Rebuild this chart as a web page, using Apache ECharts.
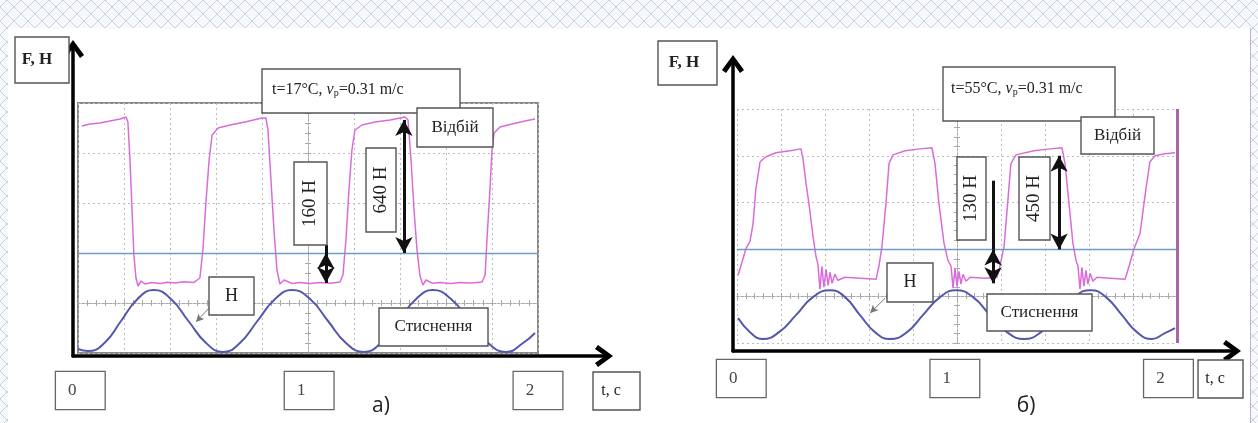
<!DOCTYPE html>
<html><head><meta charset="utf-8">
<script src="https://cdn.jsdelivr.net/npm/echarts@6/dist/echarts.min.js"></script>
<style>html,body{margin:0;padding:0;background:#fff}#c{width:1258px;height:423px}</style>
</head><body><div id="c"></div>
<script>
// ---------- data ----------
const tickValues = [0, 1, 2];                 // t, c
// panel а) : force F (Н) vs time t (c)
const forceA = [[0.017,635],[0.052,645],[0.096,650],[0.139,660],[0.183,670],[0.209,680],[0.217,655],[0.226,465],[0.235,215],[0.243,-10],[0.252,-125],[0.261,-165],[0.274,-140],[0.291,-155],[0.32,-148],[0.357,-152],[0.39,-146],[0.422,-150],[0.46,-144],[0.504,-147],[0.530,-125],[0.543,15],[0.557,265],[0.570,465],[0.583,590],[0.609,625],[0.661,640],[0.726,655],[0.800,675],[0.817,675],[0.826,615],[0.839,365],[0.852,115],[0.865,-85],[0.878,-155],[0.896,-135],[0.93,-152],[0.965,-148],[1.01,-153],[1.052,-147],[1.1,-151],[1.139,-145],[1.152,-110],[1.165,65],[1.178,315],[1.191,515],[1.204,615],[1.235,640],[1.291,655],[1.357,665],[1.422,680],[1.435,665],[1.448,465],[1.461,215],[1.474,15],[1.487,-115],[1.500,-160],[1.513,-135],[1.54,-151],[1.574,-147],[1.62,-152],[1.661,-148],[1.71,-150],[1.757,-145],[1.770,-110],[1.778,65],[1.791,315],[1.800,515],[1.809,600],[1.835,630],[1.887,645],[1.943,660],[1.987,670]];
// panel а) : displacement (drawn on the same scale)
const strokeA = [[0.000,-480],[0.043,-490],[0.115,-450],[0.187,-340],[0.259,-230],[0.330,-185],[0.404,-230],[0.480,-340],[0.557,-450],[0.630,-495],[0.704,-450],[0.780,-340],[0.857,-230],[0.930,-185],[1.009,-230],[1.087,-340],[1.165,-450],[1.243,-495],[1.317,-450],[1.393,-340],[1.470,-230],[1.543,-185],[1.622,-230],[1.702,-340],[1.783,-450],[1.861,-495],[1.935,-450],[1.987,-400]];
// panel б)
const forceB = [[0.005,-138],[0.041,5],[0.059,43],[0.073,138],[0.086,325],[0.105,468],[0.132,495],[0.177,516],[0.241,527],[0.291,537],[0.300,484],[0.314,351],[0.327,245],[0.345,74],[0.359,-37],[0.368,-80],[0.377,-213],[0.386,-90],[0.395,-202],[0.405,-106],[0.414,-192],[0.423,-122],[0.432,-181],[0.445,-133],[0.459,-165],[0.491,-149],[0.559,-154],[0.632,-160],[0.645,-90],[0.659,16],[0.677,245],[0.691,458],[0.709,505],[0.764,527],[0.832,537],[0.886,543],[0.900,458],[0.918,245],[0.941,32],[0.959,-59],[0.973,-90],[0.982,-207],[0.991,-101],[1.000,-197],[1.009,-117],[1.018,-186],[1.027,-133],[1.041,-170],[1.059,-149],[1.127,-154],[1.182,-149],[1.195,-90],[1.214,16],[1.232,271],[1.245,458],[1.268,505],[1.350,527],[1.423,537],[1.477,543],[1.491,458],[1.509,245],[1.527,32],[1.541,-59],[1.550,-90],[1.559,-213],[1.568,-96],[1.577,-197],[1.586,-112],[1.595,-186],[1.605,-128],[1.618,-170],[1.636,-149],[1.695,-154],[1.764,-160],[1.782,-90],[1.805,5],[1.832,85],[1.859,325],[1.877,468],[1.900,500],[1.945,511],[1.991,516]];
const strokeB = [[0.005,-367],[0.059,-442],[0.118,-479],[0.191,-442],[0.268,-351],[0.345,-255],[0.423,-218],[0.491,-255],[0.559,-351],[0.627,-442],[0.695,-479],[0.773,-442],[0.845,-351],[0.923,-255],[0.995,-218],[1.073,-255],[1.150,-351],[1.227,-442],[1.305,-479],[1.382,-442],[1.459,-351],[1.532,-255],[1.609,-218],[1.677,-255],[1.750,-351],[1.818,-442],[1.886,-479],[1.945,-447],[1.991,-420]];
// annotation arrows: [t, from, to]
const arrowsA = [[1.417, 0, 665], [1.078, 0, -150]];
const leadersA = [[1.078, 40, 0]];
const pointerA = [[0.570, -275], [0.513, -345]];
const arrowsB = [[1.464, 0, 500], [1.164, 0, -181]];
const leadersB = [[1.164, 367, 0]];
const pointerB = [[0.673, -261], [0.605, -340]];

// ---------- styling ----------
const SERIF = '"Liberation Serif","Times New Roman",serif';
const CH = 'path://M11,0 L22,15 L18,18 L11,8 L4,18 L0,15 Z';
const MAG = '#da6cda', BLUE = '#5457ae', BASE = '#6f9dc6', GRIDC = '#bdbdbd', TICKC = '#a9a9a9';

function outerX(g){return {type:'value',gridIndex:g,min:0,max:1,position:'bottom',axisLine:{show:true,onZero:false,symbol:['none',CH],symbolSize:[22,18],lineStyle:{color:'#000',width:3.5}},axisTick:{show:false},axisLabel:{show:false},splitLine:{show:false}};}
function outerY(g){return {type:'value',gridIndex:g,min:0,max:1,position:'left',axisLine:{show:true,onZero:false,symbol:['none',CH],symbolSize:[22,18],lineStyle:{color:'#000',width:3.5}},axisTick:{show:false},axisLabel:{show:false},splitLine:{show:false}};}
function mainX(g){return {type:'value',gridIndex:g,min:0,max:2,interval:0.2,position:'bottom',axisLine:{show:false,onZero:false},axisTick:{show:false},axisLabel:{show:false},splitLine:{show:true,lineStyle:{color:GRIDC,type:[2,3],width:1}}};}
function labelX(g,margin,lo,hi){return {type:'value',gridIndex:g,min:lo,max:hi,position:'bottom',axisLine:{show:false,onZero:false},axisTick:{show:false},splitLine:{show:false},
  axisLabel:{show:true,customValues:tickValues,margin:margin,fontFamily:SERIF,fontSize:17,lineHeight:19,color:'#444',padding:[9,28,9,12],borderColor:'#666',borderWidth:1.3,backgroundColor:'#fff',align:'center',formatter:v=>String(v)}};}
function tickX(g,off,inside){return {type:'value',gridIndex:g,min:0,max:2,interval:0.2,position:'bottom',offset:off,axisLine:{show:true,onZero:false,lineStyle:{color:TICKC,type:[2,2],width:1}},axisTick:{show:true,inside:inside,length:3,lineStyle:{color:TICKC}},minorTick:{show:true,splitNumber:5,length:3,lineStyle:{color:TICKC}},axisLabel:{show:false},splitLine:{show:false}};}
function mainY(g){return {type:'value',gridIndex:g,min:-500,max:750,interval:250,position:'left',axisLine:{show:false,onZero:false},axisTick:{show:false},axisLabel:{show:false},splitLine:{show:true,lineStyle:{color:GRIDC,type:[2,3],width:1}}};}
function tickY(g,off,inside){return {type:'value',gridIndex:g,min:-500,max:750,interval:250,position:'left',offset:off,axisLine:{show:true,onZero:false,lineStyle:{color:TICKC,type:[2,2],width:1}},axisTick:{show:true,inside:inside,length:3,lineStyle:{color:TICKC}},minorTick:{show:true,splitNumber:5,length:3,lineStyle:{color:TICKC}},axisLabel:{show:false},splitLine:{show:false}};}

function dbl(a){return [{coord:[a[0],a[1]],symbol:'arrow',symbolSize:[13,16],lineStyle:{color:'#111',width:3,type:'solid'}},{coord:[a[0],a[2]],symbol:'arrow',symbolSize:[13,16]}];}
function lead(a){return [{coord:[a[0],a[1]],symbol:'none',lineStyle:{color:'#111',width:3,type:'solid'}},{coord:[a[0],a[2]],symbol:'none'}];}
function ptr(p){return [{coord:p[0],symbol:'none',lineStyle:{color:'#777',width:1,type:'solid'}},{coord:p[1],symbol:'arrow',symbolSize:[6,8]}];}

// ---------- background lattice pattern ----------
const pc = document.createElement('canvas'); pc.width = 14; pc.height = 14;
const pg = pc.getContext('2d'); pg.fillStyle = '#f6f8fb'; pg.fillRect(0,0,14,14);
pg.strokeStyle = '#c6d2de'; pg.lineWidth = 1; pg.beginPath();
pg.moveTo(0,7); pg.lineTo(7,0); pg.lineTo(14,7); pg.lineTo(7,14); pg.closePath(); pg.stroke();
const PAT = {image: pc, repeat: 'repeat'};

const els = [];
els.push({type:'rect',z:-10,silent:true,shape:{x:0,y:0,width:1258,height:28},style:{fill:PAT}});
els.push({type:'rect',z:-10,silent:true,shape:{x:0,y:0,width:8,height:423},style:{fill:PAT}});
els.push({type:'rect',z:-10,silent:true,shape:{x:1251,y:0,width:7,height:423},style:{fill:PAT}});
els.push({type:'line',z:-9,silent:true,shape:{x1:1250.5,y1:28,x2:1250.5,y2:423},style:{stroke:'#bbb',lineWidth:1}});

function box(x,y,w,h,txt,o){
  o = o || {};
  els.push({type:'rect',z:50,shape:{x:x,y:y,width:w,height:h},style:{fill:'#fff',stroke:'#555',lineWidth:1.4}});
  const st = {text:txt,fontFamily:SERIF,fontSize:o.fs||17,fontWeight:o.fw||'normal',fill:'#222',align:o.align||'center',verticalAlign:'middle'};
  if (o.rich) st.rich = o.rich;
  els.push({type:'text',z:51,x:o.tx!==undefined?o.tx:x+w/2,y:o.ty!==undefined?o.ty:y+h/2,rotation:o.rot||0,style:st});
}
const richT = {i:{fontFamily:SERIF,fontSize:16,fontStyle:'italic',fill:'#222'},s:{fontFamily:SERIF,fontSize:10,fill:'#222',verticalAlign:'bottom',lineHeight:12,padding:[8,0,0,0]}};
// panel а)
box(15,37,54,46,'F, Н',{fw:'bold',tx:37});
box(262,69,198,44,'t=17°C, {i|v}{s|р}=0.31 m/c',{align:'left',tx:272,ty:90,fs:16,rich:richT});
box(417,108,76,39,'Відбій');
box(294,162,33,83,'160 Н',{rot:Math.PI/2,fs:19});
box(366,148,30,84,'640 Н',{rot:Math.PI/2,fs:19});
box(209,277,45,38,'Н',{fs:18});
box(379,308,109,38,'Стиснення');
box(593,372,47,38,'t, с',{fs:16,tx:611});
els.push({type:'text',z:51,x:381,y:406,style:{text:'а)',fontFamily:'"Open Sans",sans-serif',fontSize:21,fill:'#222',align:'center',verticalAlign:'middle'}});
// panel б)
box(658,41,59,44,'F, Н',{fw:'bold',tx:684});
box(943,67,172,54,'t=55°C, {i|v}{s|р}=0.31 m/c',{align:'left',tx:951,ty:89,fs:16,rich:richT});
box(1081,117,73,37,'Відбій');
box(957,157,29,83,'130 Н',{rot:Math.PI/2,fs:19});
box(1019,157,31,83,'450 Н',{rot:Math.PI/2,fs:19});
box(887,263,46,39,'Н',{fs:18});
box(987,294,105,37,'Стиснення');
box(1198,360,45,38,'t, с',{fs:16,tx:1215});
els.push({type:'text',z:51,x:1026,y:406,style:{text:'б)',fontFamily:'"Open Sans",sans-serif',fontSize:21,fill:'#222',align:'center',verticalAlign:'middle'}});

const baseLine = {yAxis:0,symbol:'none',lineStyle:{color:BASE,width:1.3,type:'solid'}};

const option = {
  animation:false,
  backgroundColor:'#fff',
  grid:[
    {left:73,top:49,width:531,height:307,show:false},
    {left:78,top:103,width:460,height:250,show:true,borderColor:'#8a8a8a',borderWidth:2,backgroundColor:'transparent'},
    {left:733,top:64,width:499,height:287,show:false},
    {left:737,top:109,width:440,height:234,show:false}
  ],
  xAxis:[outerX(0),mainX(1),labelX(1,19,-0.01,2),tickX(1,-50,false),tickX(1,-50,true),
         outerX(2),mainX(3),labelX(3,17,-0.02,2.04),tickX(3,-47,false),tickX(3,-47,true)],
  yAxis:[outerY(0),mainY(1),tickY(1,-230,false),tickY(1,-230,true),
         outerY(2),mainY(3),tickY(3,-220,false),tickY(3,-220,true)],
  graphic:{elements:els},
  series:[
    {type:'line',xAxisIndex:1,yAxisIndex:1,data:strokeA,smooth:true,showSymbol:false,z:3,lineStyle:{color:BLUE,width:2},
     markLine:{silent:true,animation:false,symbol:['none','none'],label:{show:false},data:[ptr(pointerA)]}},
    {type:'line',xAxisIndex:1,yAxisIndex:1,data:forceA,showSymbol:false,z:4,lineStyle:{color:MAG,width:1.5},
     markLine:{silent:true,animation:false,symbol:['none','none'],label:{show:false},
       data:[baseLine].concat(arrowsA.map(dbl),leadersA.map(lead))}},
    {type:'line',xAxisIndex:6,yAxisIndex:5,data:strokeB,smooth:true,showSymbol:false,z:3,lineStyle:{color:BLUE,width:2},
     markLine:{silent:true,animation:false,symbol:['none','none'],label:{show:false},data:[ptr(pointerB)]}},
    {type:'line',xAxisIndex:6,yAxisIndex:5,data:forceB,showSymbol:false,z:4,lineStyle:{color:MAG,width:1.5},
     markLine:{silent:true,animation:false,symbol:['none','none'],label:{show:false},
       data:[baseLine,{xAxis:2,symbol:'none',lineStyle:{color:'#a866a8',width:3,type:'solid'}}].concat(arrowsB.map(dbl),leadersB.map(lead))}}
  ]
};
const chart = echarts.init(document.getElementById('c'), null, {renderer:'canvas'});
chart.setOption(option);
</script>
</body></html>
